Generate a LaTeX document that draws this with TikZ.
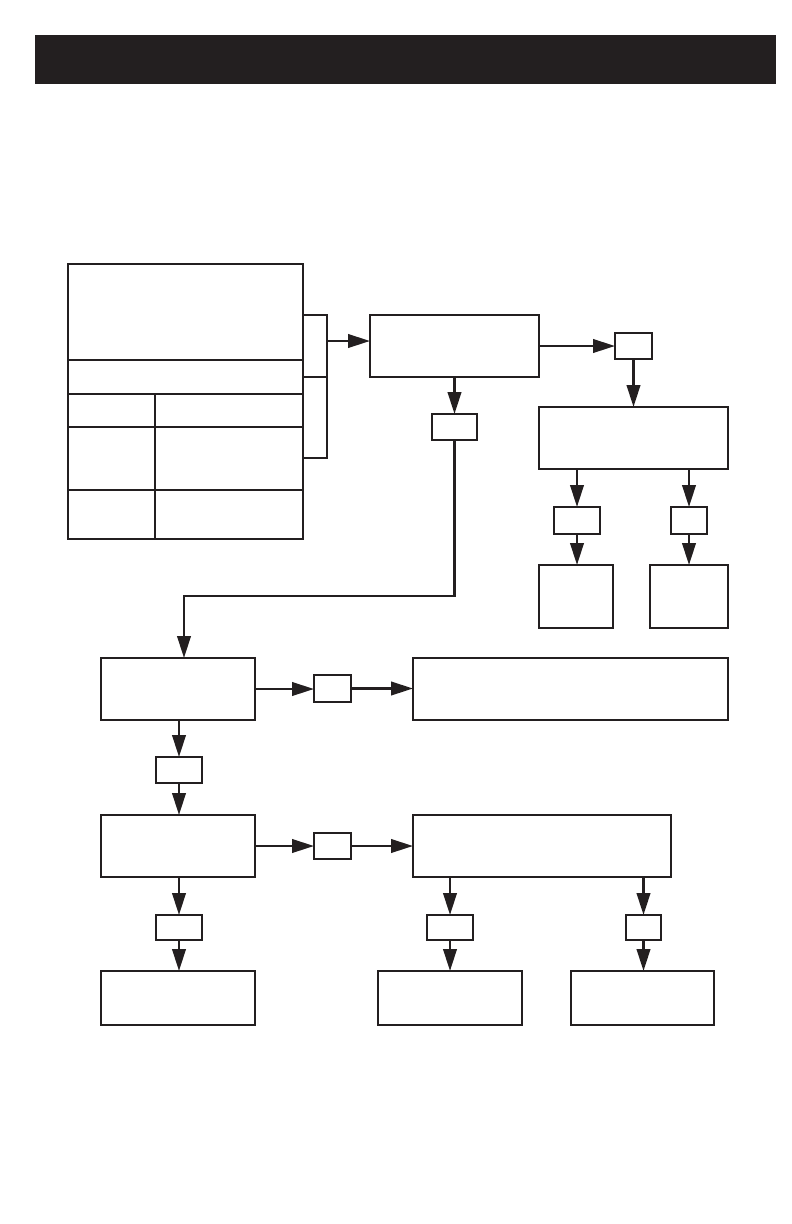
\documentclass[tikz,border=0pt]{standalone}
\usetikzlibrary{arrows.meta}
\definecolor{ink}{HTML}{231F20}
\begin{document}
\begin{tikzpicture}[x=1bp,y=-1bp,
  box/.style={draw=ink,line width=1.3bp,inner sep=0pt,outer sep=0pt,fill=white},
  tag/.style={draw=ink,line width=2bp,inner sep=0pt,outer sep=0pt,fill=white,minimum width=#1},
  conn/.style={draw=ink,line width=2.4bp},
  arr/.style={conn,-{Triangle[length=22bp,width=13.5bp]}}]
\useasboundingbox (0,0) rectangle (792,1224);
% title bar
\fill[ink] (35,35) rectangle (776,84);
% table
\node[box,minimum width=235bp,minimum height=275bp] (T) at (185.5,401.5) {};
\draw[ink,line width=1.3bp] (68,360) -- (303,360) (68,394) -- (303,394) (68,427) -- (303,427) (68,490) -- (303,490) (155,394) -- (155,539);
% bracket
\coordinate (b1) at (T.east |- 0,315);
\coordinate (b2) at (T.east |- 0,377);
\coordinate (b3) at (T.east |- 0,458);
\coordinate (bm) at (327,341);
\draw[conn,line width=2.5bp] (b1) -- (327,315) -- (327,458) -- (b3) (b2) -- (327,377);
% boxes
\node[box,minimum width=169bp,minimum height=62bp] (A) at (454.5,346) {};
\node[tag=37bp,minimum height=26bp] (B) at (633.5,346) {};
\node[box,minimum width=189bp,minimum height=62bp] (C) at (633.5,438) {};
\node[tag=46bp,minimum height=27bp] (D1) at (577,520.5) {};
\node[tag=36bp,minimum height=27bp] (D2) at (689,520.5) {};
\node[box,minimum width=74bp,minimum height=63bp] (E1) at (576,596.5) {};
\node[box,minimum width=78bp,minimum height=63bp] (E2) at (689,596.5) {};
\node[tag=45bp,minimum height=26bp] (F) at (454.5,427) {};
\node[box,minimum width=154bp,minimum height=62bp] (G) at (178,689) {};
\node[tag=37bp,minimum height=27bp] (H) at (332.5,688.5) {};
\node[box,minimum width=315bp,minimum height=62bp] (I) at (570.5,689) {};
\node[tag=46bp,minimum height=26bp] (J) at (179,770) {};
\node[box,minimum width=154bp,minimum height=62bp] (K) at (178,846) {};
\node[tag=37bp,minimum height=26bp] (L) at (332.5,846) {};
\node[box,minimum width=258bp,minimum height=62bp] (M) at (542,846) {};
\node[tag=46bp,minimum height=25bp] (N) at (179,927.5) {};
\node[box,minimum width=154bp,minimum height=54bp] (O) at (178,998) {};
\node[tag=46bp,minimum height=25bp] (P1) at (450,927.5) {};
\node[tag=35bp,minimum height=25bp] (P2) at (643.5,927.5) {};
\node[box,minimum width=144bp,minimum height=54bp] (Q1) at (450,998) {};
\node[box,minimum width=143bp,minimum height=54bp] (Q2) at (642.5,998) {};
% connectors
\draw[arr] (bm) -- (bm -| A.west);
\draw[arr] (A.east |- B.west) -- (B.west);
\draw[arr] (B.south) -- (B.south |- C.north);
\draw[arr] (C.south -| D1.north) -- (D1.north);
\draw[arr] (C.south -| D2.north) -- (D2.north);
\draw[arr] (D1.south) -- (D1.south |- E1.north);
\draw[arr] (D2.south) -- (D2.south |- E2.north);
\draw[arr] (A.south) -- (F.north);
\coordinate (gin) at (184,658);
\draw[arr] (F.south) |- (gin |- 0,596) -- (gin);
\draw[arr] (G.east) -- (G.east -| H.west);
\draw[arr] (H.east) -- (H.east -| I.west);
\draw[arr] (G.south -| J.north) -- (J.north);
\draw[arr] (J.south) -- (J.south |- K.north);
\draw[arr] (K.east) -- (K.east -| L.west);
\draw[arr] (L.east) -- (L.east -| M.west);
\draw[arr] (K.south -| N.north) -- (N.north);
\draw[arr] (N.south) -- (N.south |- O.north);
\draw[arr] (M.south -| P1.north) -- (P1.north);
\draw[arr] (M.south -| P2.north) -- (P2.north);
\draw[arr] (P1.south) -- (P1.south |- Q1.north);
\draw[arr] (P2.south) -- (P2.south |- Q2.north);
\end{tikzpicture}
\end{document}
